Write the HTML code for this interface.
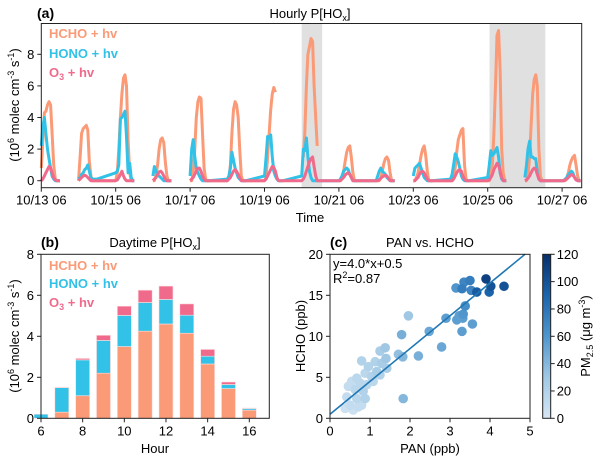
<!DOCTYPE html>
<html><head><meta charset="utf-8"><style>
body{margin:0;background:#fff}
svg{display:block;font-family:"Liberation Sans",Arial,sans-serif}
</style></head><body>
<svg id="fig" width="600" height="462" viewBox="0 0 600 462"></svg>
<script>
// ===== Panel (a) data: hourly profiles (h06..h18) per day, day 0 = 10/13 =====
const aSegments=[[0,0],[1,2],[3,3],[4,9],[10,12],[13,14]];
const aHCHO=[
[0.8,2.5,4.3,4.4,4.8,5.0,4.8,3.0,1.0,0.1,0,0,0],
[0,1.5,3.0,3.3,3.4,3.5,3.2,1.2,0.3,0,0,0,0],
[0,0.5,2.0,4.0,5.5,6.5,6.7,6.0,2.5,0.5,0,0,0],
[0,0,0.3,1.0,2.0,2.6,2.7,2.4,1.2,0.3,0,0,0],
[0,0,0.5,2.0,4.0,5.0,5.3,5.2,3.0,0.8,0.1,0,0],
[0,0.2,1.0,3.0,4.5,5.0,4.8,4.0,2.0,0.3,0,0,0],
[0,0.2,1.5,3.0,4.5,5.5,5.9,5.6,null,null,null,null,null],
[null,1.5,3.0,6.0,8.0,8.5,9.0,8.8,6.0,4.0,2.2,null,null],
[0,0,0.2,0.6,1.2,1.8,2.1,2.2,1.5,0.5,0,0,0],
[0,0,0,0.2,0.6,1.1,1.4,1.5,1.3,0.5,0,0,0],
[0,0,0.2,0.5,1.0,1.6,2.0,2.2,1.6,0.6,0,0,0],
[0,0,0.2,0.8,1.8,2.6,2.9,3.2,3.3,1.0,0.1,0,0],
[0,0,0.3,1.0,3.0,6.0,9.2,9.5,7.0,2.0,0.5,0,0],
[0,0,0.3,1.5,3.5,5.5,6.4,6.7,6.0,2.0,0.3,0,0],
[0,0,0,0.2,0.5,1.0,1.3,1.5,1.6,1.0,0.3,0,0]];
const aHONO=[
[2.2,3.4,4.0,3.0,2.0,1.4,0.8,0.3,0.1,0,0,0,0],
[0.1,0.2,0.4,0.5,0.7,0.8,1.0,0.6,0.2,0.1,0.1,0.1,0.1],
[0.5,0.6,1.0,3.9,4.0,4.2,4.4,2.8,0.5,1.1,0.2,0,0],
[0.3,0.9,0.6,0.4,0.3,0.2,0.1,0,0,0,0,0,0],
[0.3,2.0,2.6,1.5,0.8,0.5,0.3,0.1,0,0,0,0,0],
[0.1,0.3,0.8,1.8,1.3,0.8,0.5,0.2,0.1,0,0,0,0],
[0.3,1.5,2.8,2.7,2.9,1.5,0.6,0.3,0.1,0,0,0,0],
[0.3,2.0,1.9,2.7,1.5,0.6,0.2,0,0,0,0,0,0],
[0,0.1,0.3,0.6,0.7,0.8,0.7,0.4,0.2,0,0,0,0],
[0,0.3,0.6,0.8,0.6,0.5,0.4,0.2,0.1,0,0,0,0],
[0.3,0.8,0.9,1.0,1.1,0.8,0.5,0.2,0.1,0,0,0,0],
[0.1,0.4,1.0,1.7,1.5,1.2,0.8,0.3,0.1,0,0,0,0],
[0.2,1.0,1.9,1.6,1.7,1.9,2.1,1.5,0.5,0.1,0,0,0],
[0.2,1.0,2.0,2.5,1.5,1.5,1.4,1.4,0.5,0.1,0,0,0],
[0,0,0.1,0.2,0.4,0.5,0.6,0.5,0.2,0.1,0,0,0]];
const aO3=[
[0,0.1,0.3,0.5,0.7,0.9,0.8,0.5,0.2,0.05,0,0,0],
[0,0.1,0.2,0.3,0.35,0.3,0.2,0.1,0,0,0,0,0],
[0,0.05,0.2,0.4,0.6,0.3,0.1,0,0,0,0,0,0],
[0,0.1,0.2,0.4,0.55,0.6,0.5,0.3,0.1,0,0,0,0],
[0,0.1,0.2,0.4,0.6,0.8,0.8,0.6,0.3,0.1,0,0,0],
[0,0.1,0.2,0.4,0.6,0.7,0.6,0.4,0.2,0,0,0,0],
[0,0.1,0.3,0.5,0.7,0.9,0.85,0.6,0.2,0,0,0,0],
[0,0.1,0.3,0.6,0.9,1.2,1.4,1.5,0.9,0.3,0,0,0],
[0,0,0.1,0.2,0.35,0.45,0.5,0.4,0.2,0,0,0,0],
[0,0,0.05,0.15,0.25,0.3,0.35,0.3,0.15,0,0,0,0],
[0,0,0.1,0.2,0.4,0.55,0.6,0.5,0.3,0.1,0,0,0],
[0,0,0.1,0.3,0.5,0.65,0.7,0.6,0.3,0.1,0,0,0],
[0,0.05,0.2,0.4,0.7,0.9,1.1,1.0,0.6,0.2,0,0,0],
[0,0.05,0.15,0.3,0.5,0.7,0.8,0.7,0.4,0.1,0,0,0],
[0,0,0.05,0.1,0.2,0.3,0.4,0.35,0.2,0.05,0,0,0]];
const aShade=[[7.0,7.55],[12.05,13.55]]; // day offsets from 10/13 06
const aXTicks=["10/13 06","10/15 06","10/17 06","10/19 06","10/21 06","10/23 06","10/25 06","10/27 06"];
const aYTicks=[0,2,4,6,8];
// ===== Panel (b) data =====
const bHours=[6,7,8,9,10,11,12,13,14,15,16];
const bHCHO=[0,0.3,1.1,2.2,3.5,4.25,4.6,4.15,2.65,1.45,0.4];
const bHONO=[0.2,1.2,1.75,1.6,1.52,1.4,1.2,0.88,0.38,0.2,0.08];
const bO3=[0,0.02,0.07,0.25,0.45,0.6,0.65,0.55,0.33,0.12,0.02];
const bXTicks=[6,8,10,12,14,16];
const bYTicks=[0,2,4,6,8];
// ===== Panel (c) data =====
const cPAN=[3.9,4.02,4.35,3.98,3.67,3.5,3.35,3.3,3.15,3.53,3.38,3.33,3.23,3.17,3.32,2.9,3.56,3.3,2.48,2.79,1.79,2.21,1.96,1.71,1.82,1.83,1.38,1.25,1.4,0.79,1.13,1.29,0.96,1.17,0.88,0.67,1.04,1.25,0.75,0.46,0.92,0.63,0.83,0.42,0.67,0.88,0.5,0.71,0.38,0.58,0.79,1.08,0.54,1.42];
const cHCHO=[17.0,16.1,16.1,15.4,15.4,16.8,16.6,15.8,15.9,15.6,13.7,12.7,12.5,12.0,12.2,12.2,11.5,10.6,10.6,8.7,10.2,7.6,12.5,7.8,7.5,2.4,8.6,8.2,7.3,7.0,6.9,6.7,6.3,5.7,5.5,4.9,5.1,5.3,4.3,3.9,4.1,3.5,3.3,2.6,2.4,2.4,1.6,1.4,1.2,1.0,1.6,4.5,4.5,6.1];
const cPM=[110,100,100,90,95,75,70,75,60,70,65,60,55,55,55,55,55,55,50,50,45,45,30,35,40,40,30,25,30,20,20,25,20,25,15,15,20,20,15,10,15,15,20,10,15,20,10,10,5,5,10,15,10,25];
const cXTicks=[0,1,2,3,4,5];
const cYTicks=[0,5,10,15,20];
const cCbTicks=[0,20,40,60,80,100,120];
const cSlope=4.0, cIntercept=0.5;

const NS="http://www.w3.org/2000/svg";
const svg=document.getElementById('fig');
function mk(tag,attrs,parent,text){const e=document.createElementNS(NS,tag);for(const k in attrs)e.setAttribute(k,attrs[k]);if(text!==undefined)e.textContent=text;(parent||svg).appendChild(e);return e;}
const C_HCHO="#fb9a76",C_HONO="#32c1e7",C_O3="#f06a8c";

// ---------- Panel (a) ----------
const aL=41.3,aR=581.7,aT=23.5,aB=187.7;
const ax=d=>aL+d*37.2;
const ay=v=>180.7-v*15.8;
const ga=mk('g',{});

aShade.forEach(s=>{const r=mk('rect',{x:ax(s[0]),y:aT,width:ax(s[1])-ax(s[0]),height:aB-aT,fill:"#e0e0e0"},ga);
});
function drawSeries(arr,col,name){
  aSegments.forEach(seg=>{
    let d="",pen=false;
    for(let day=seg[0];day<=seg[1];day++){
      arr[day].forEach((v,i)=>{
        if(v===null){pen=false;return;}
        const x=ax(day+i/24),y=ay(v);
        d+=(pen?"L":"M")+x.toFixed(1)+","+y.toFixed(1);pen=true;
      });
    }
    const p=mk('path',{d:d,fill:"none",stroke:col,"stroke-width":3,"stroke-linejoin":"round"},ga);
    
  });
}
drawSeries(aHCHO,C_HCHO,'hcho');drawSeries(aHONO,C_HONO,'hono');drawSeries(aO3,C_O3,'o3');
mk('rect',{x:aL,y:aT,width:aR-aL,height:aB-aT,fill:"none",stroke:"#222","stroke-width":1},ga);
aYTicks.forEach(v=>{mk('line',{x1:aL-4,x2:aL,y1:ay(v),y2:ay(v),stroke:"#222"},ga);
 const t=mk('text',{x:aL-7,y:ay(v)+4.5,"text-anchor":"end","font-size":13},ga,v);});
aXTicks.forEach((l,i)=>{const x=ax(i*2);mk('line',{x1:x,x2:x,y1:aB,y2:aB+4,stroke:"#222"},ga);
 const t=mk('text',{x:x,y:aB+17,"text-anchor":"middle","font-size":13},ga,l);});

function txt(s,attrs,name){const t=mk('text',attrs,svg);t.innerHTML=s;return t;}
txt('(a)',{x:37,y:18,"font-size":14,"font-weight":"bold"},'panel-a-label');
txt('Hourly P[HO<tspan font-size="9" dy="3">x</tspan><tspan dy="-3">]</tspan>',{x:310,y:18,"font-size":13,"text-anchor":"middle"},'panel-a-title');
txt('HCHO + hv',{x:49,y:38,"font-size":13,"font-weight":"bold",fill:C_HCHO},'legend-a-hcho');
txt('HONO + hv',{x:49,y:58,"font-size":13,"font-weight":"bold",fill:C_HONO},'legend-a-hono');
txt('O<tspan font-size="9" dy="3">3</tspan><tspan dy="-3"> + hv</tspan>',{x:49,y:77,"font-size":13,"font-weight":"bold",fill:C_O3},'legend-a-o3');
txt('Time',{x:310,y:222,"font-size":13,"text-anchor":"middle"},'x-axis-title-a');
txt('(10<tspan font-size="9" dy="-5">6</tspan><tspan dy="5"> molec cm</tspan><tspan font-size="9" dy="-5">-3</tspan><tspan dy="5"> s</tspan><tspan font-size="9" dy="-5">-1</tspan><tspan dy="5">)</tspan>',{x:0,y:0,"font-size":13,"text-anchor":"middle",transform:"translate(19,105) rotate(-90)"},'y-axis-title-a');

// ---------- Panel (b) ----------
const bL=41,bR=269.3,bT=254.3,bB=418.3;
const bx=h=>bL+(h-6)*20.83;
const by=v=>bB-v*20.5;
const gb=mk('g',{});
bHours.forEach((h,i)=>{
  const w=14,x=bx(h)-w/2;
  const parts=[[0,bHCHO[i],C_HCHO,'bar-hcho'],[bHCHO[i],bHCHO[i]+bHONO[i],C_HONO,'bar-hono'],[bHCHO[i]+bHONO[i],bHCHO[i]+bHONO[i]+bO3[i],C_O3,'bar-o3']];
  parts.forEach(p=>{if(p[1]-p[0]<=0)return;
    const r=mk('rect',{x:x,y:by(p[1]),width:w,height:by(p[0])-by(p[1]),fill:p[2],stroke:"#fde0e0","stroke-width":0.6},gb);
    });
});
mk('rect',{x:bL,y:bT,width:bR-bL,height:bB-bT,fill:"none",stroke:"#222"},gb);
bYTicks.forEach(v=>{mk('line',{x1:bL-4,x2:bL,y1:by(v),y2:by(v),stroke:"#222"},gb);
 const t=mk('text',{x:bL-7,y:by(v)+4.5,"text-anchor":"end","font-size":13},gb,v);});
bXTicks.forEach(v=>{mk('line',{x1:bx(v),x2:bx(v),y1:bB,y2:bB+4,stroke:"#222"},gb);
 const t=mk('text',{x:bx(v),y:bB+17,"text-anchor":"middle","font-size":13},gb,v);});
txt('(b)',{x:41,y:247,"font-size":14,"font-weight":"bold"},'panel-b-label');
txt('Daytime P[HO<tspan font-size="9" dy="3">x</tspan><tspan dy="-3">]</tspan>',{x:155,y:247,"font-size":13,"text-anchor":"middle"},'panel-b-title');
txt('HCHO + hv',{x:49,y:270,"font-size":13,"font-weight":"bold",fill:C_HCHO},'legend-b-hcho');
txt('HONO + hv',{x:49,y:288,"font-size":13,"font-weight":"bold",fill:C_HONO},'legend-b-hono');
txt('O<tspan font-size="9" dy="3">3</tspan><tspan dy="-3"> + hv</tspan>',{x:49,y:307,"font-size":13,"font-weight":"bold",fill:C_O3},'legend-b-o3');
txt('Hour',{x:155,y:453,"font-size":13,"text-anchor":"middle"},'x-axis-title-b');
txt('(10<tspan font-size="9" dy="-5">6</tspan><tspan dy="5"> molec cm</tspan><tspan font-size="9" dy="-5">-3</tspan><tspan dy="5"> s</tspan><tspan font-size="9" dy="-5">-1</tspan><tspan dy="5">)</tspan>',{x:0,y:0,"font-size":13,"text-anchor":"middle",transform:"translate(19,336) rotate(-90)"},'y-axis-title-b');

// ---------- Panel (c) ----------
const cL=330,cR=530,cT=254.3,cB=418.3;
const cx=v=>cL+v*40, cy=v=>cB-v*8.2;
const cStops=[[0,[214,230,244]],[0.25,[160,200,228]],[0.5,[80,150,205]],[0.75,[27,100,172]],[1,[8,48,107]]];
function cmap(v){const t=Math.max(0,Math.min(1,v/120));
 for(let k=1;k<cStops.length;k++){if(t<=cStops[k][0]){const a=cStops[k-1],b=cStops[k];const f=(t-a[0])/(b[0]-a[0]);
  return 'rgb('+a[1].map((c,i)=>Math.round(c+(b[1][i]-c)*f)).join(',')+')';}}
 return 'rgb(8,48,107)';}
const gc=mk('g',{});
const cp=mk('clipPath',{id:'cclip'},gc);mk('rect',{x:cL,y:cT,width:cR-cL,height:cB-cT},cp);
const order=cPM.map((v,i)=>i).sort((a,b)=>cPM[a]-cPM[b]);
order.forEach(i=>{const c=mk('circle',{cx:cx(cPAN[i]),cy:cy(cHCHO[i]),r:4.8,fill:cmap(cPM[i]),"clip-path":"url(#cclip)"},gc);
 });
const xEnd=(20-cIntercept)/cSlope;
const fl=mk('line',{x1:cx(0),y1:cy(cIntercept),x2:cx(xEnd),y2:cy(20),stroke:"#1f77b4","stroke-width":1.6},gc);

mk('rect',{x:cL,y:cT,width:cR-cL,height:cB-cT,fill:"none",stroke:"#222"},gc);
cYTicks.forEach(v=>{mk('line',{x1:cL-4,x2:cL,y1:cy(v),y2:cy(v),stroke:"#222"},gc);
 const t=mk('text',{x:cL-7,y:cy(v)+4.5,"text-anchor":"end","font-size":13},gc,v);});
cXTicks.forEach(v=>{mk('line',{x1:cx(v),x2:cx(v),y1:cB,y2:cB+4,stroke:"#222"},gc);
 const t=mk('text',{x:cx(v),y:cB+17,"text-anchor":"middle","font-size":13},gc,v);});
const cbL=542.7,cbW=8,cbY=v=>cB-v*(cB-cT)/120;
const defs=mk('defs',{},svg);const lg=mk('linearGradient',{id:'cbg',x1:0,y1:1,x2:0,y2:0},defs);
cStops.forEach(s=>mk('stop',{offset:s[0],"stop-color":'rgb('+s[1].join(',')+')'},lg));
const cb=mk('rect',{x:cbL,y:cT,width:cbW,height:cB-cT,fill:"url(#cbg)",stroke:"#222"},gc);

cCbTicks.forEach(v=>{mk('line',{x1:cbL+cbW,x2:cbL+cbW+4,y1:cbY(v),y2:cbY(v),stroke:"#222"},gc);
 const t=mk('text',{x:cbL+cbW+6,y:cbY(v)+4.5,"font-size":13},gc,v);});
txt('(c)',{x:330,y:247,"font-size":14,"font-weight":"bold"},'panel-c-label');
txt('PAN vs. HCHO',{x:430,y:247,"font-size":13,"text-anchor":"middle"},'panel-c-title');
txt('y=4.0*x+0.5',{x:333,y:268,"font-size":13},'fit-equation');
txt('R<tspan font-size="9" dy="-5">2</tspan><tspan dy="5">=0.87</tspan>',{x:333,y:283,"font-size":13},'fit-r2');
txt('PAN (ppb)',{x:430,y:453,"font-size":13,"text-anchor":"middle"},'x-axis-title-c');
txt('HCHO (ppb)',{x:0,y:0,"font-size":13,"text-anchor":"middle",transform:"translate(305,336) rotate(-90)"},'y-axis-title-c');
txt('PM<tspan font-size="9" dy="3">2.5</tspan><tspan dy="-3"> (μg m</tspan><tspan font-size="9" dy="-5">-3</tspan><tspan dy="5">)</tspan>',{x:0,y:0,"font-size":13,"text-anchor":"middle",transform:"translate(590,336) rotate(-90)"},'colorbar-title');
</script>
</body></html>
